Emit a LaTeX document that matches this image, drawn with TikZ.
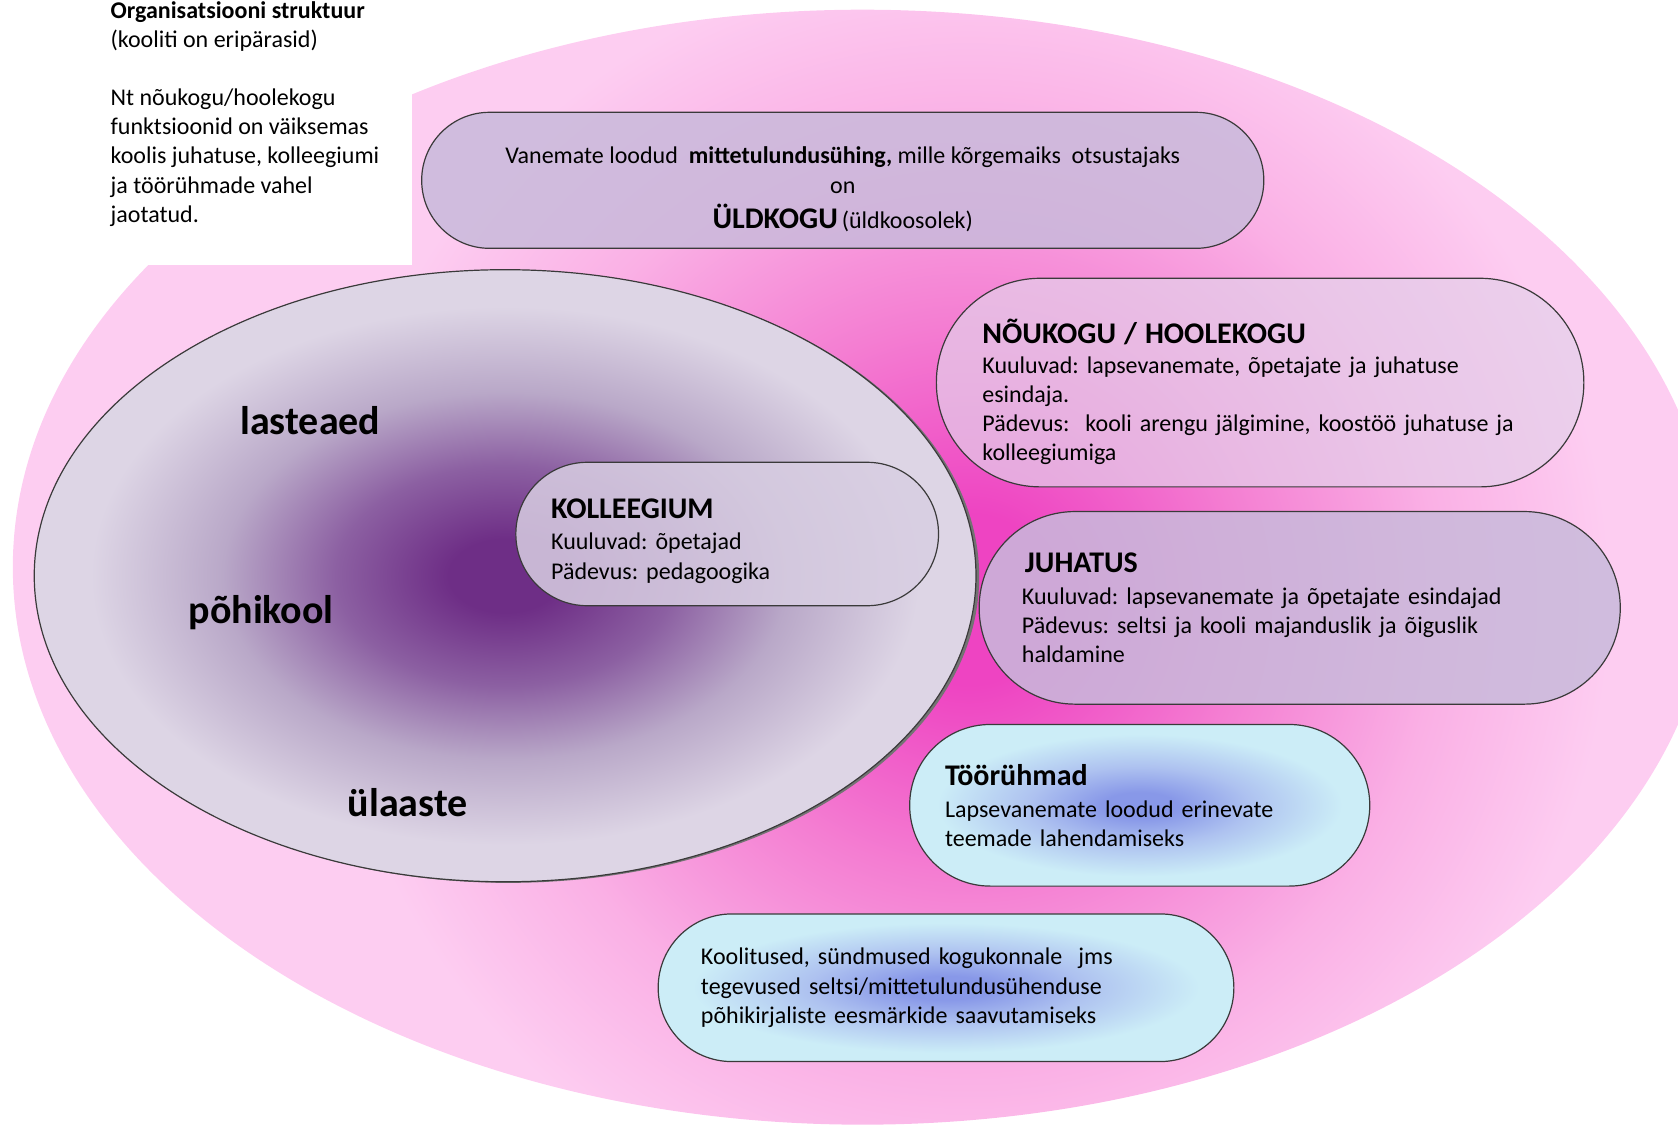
\documentclass[tikz,border=0pt]{standalone}
\usepackage{fontspec}
\setmainfont{Carlito}
\frenchspacing

\definecolor{pinkedge}{HTML}{FDCDF1}
\definecolor{pinklight}{HTML}{FAB0E5}
\definecolor{pinkmid}{HTML}{F47ED2}
\definecolor{pinkcore}{HTML}{EE44C2}
\definecolor{schoolcore}{HTML}{6E2E86}
\definecolor{schooldark}{HTML}{8C60A2}
\definecolor{schoolmid}{HTML}{B9A8C8}
\definecolor{schooledge}{HTML}{DDD5E5}
\definecolor{lavfill}{HTML}{C9BADB}
\definecolor{lavlight}{HTML}{E4D0EA}
\definecolor{kolfill}{HTML}{D8CEE2}
\definecolor{cyanedge}{HTML}{CCEDF7}
\definecolor{cyanmid}{HTML}{AEC2F0}
\definecolor{bluecore}{HTML}{8898E8}
\definecolor{boxline}{HTML}{3A3A3A}

\pgfdeclareradialshading{pinkglow}{\pgfpointorigin}{color(0bp)=(pinkcore); color(2bp)=(pinkcore); color(6.5bp)=(pinkmid); color(11bp)=(pinklight); color(15bp)=(pinkedge); color(50bp)=(pinkedge)}
\pgfdeclareradialshading{schoolglow}{\pgfpointorigin}{color(0bp)=(schoolcore); color(3bp)=(schoolcore); color(9bp)=(schooldark); color(15bp)=(schoolmid); color(22bp)=(schooledge); color(50bp)=(schooledge)}
\pgfdeclareradialshading{bluecloud}{\pgfpointorigin}{color(0bp)=(bluecore); color(4bp)=(bluecore); color(12bp)=(cyanmid); color(22bp)=(cyanedge); color(50bp)=(cyanedge)}

\newcommand{\txtfont}{\fontsize{12}{14.6}\selectfont}
\newcommand{\hdfont}{\fontsize{15}{18}\selectfont\bfseries}

\begin{document}
\begin{tikzpicture}[x=0.535pt, y=-0.535pt,
    pill/.style={draw=boxline, line width=0.6pt, align=left, inner sep=0pt, font=\txtfont, text=black},
    lavpill/.style={pill, fill=lavfill, fill opacity=0.85, text opacity=1},
    bluepill/.style={pill, shade, shading=bluecloud},
    schoollabel/.style={font=\fontsize{20}{24}\selectfont\bfseries},
    note/.style={align=left, inner sep=0pt, font=\txtfont}]
  \useasboundingbox (0,0) rectangle (1568,1053);
  \clip (0,0) rectangle (1568,1053);

  % pink oval behind everything
  \begin{scope}
    \clip (806,530) ellipse [x radius=424.8pt, y radius=278.7pt];
    \shade[shading=pinkglow] (-95,-440) rectangle (1905,1560);
  \end{scope}
  \fill[white] (0,0) rectangle (385,248); % free corner for the note

  \node[note, anchor=north west] (note) at (103,1) {\textbf{Organisatsiooni struktuur}\\
    (kooliti on eripärasid)\\[14.4pt]
    Nt nõukogu/hoolekogu\\
    funktsioonid on väiksemas\\
    koolis juhatuse, kolleegiumi\\
    ja töörühmade vahel\\
    jaotatud.};

  % school oval
  \fill[black!55] (475,539) ellipse [x radius=235.4pt, y radius=153pt]; % shadow
  \shadedraw[shading=schoolglow, draw=boxline, line width=0.6pt] (472,538) ellipse [x radius=235.4pt, y radius=153pt];
  \node[schoollabel] (lasteaed) at (290,393) {lasteaed};
  \node[schoollabel] (pohikool) at (244,572) {põhikool};
  \node[schoollabel] (ulaaste) at (381,750) {ülaaste};

  % bodies of the society
  \node[lavpill, align=center, minimum width=421pt, minimum height=68pt, rounded corners=33.9pt] (uldkogu) at (787.5,168.5)
    {\rule{0pt}{17.5pt}Vanemate loodud \ \textbf{mittetulundusühing,} mille kõrgemaiks \ otsustajaks\\
     on\\[3pt]
     {\hdfont ÜLDKOGU}\,(üldkoosolek)};
  \node[lavpill, fill=lavlight, fill opacity=0.7, minimum width=323.7pt, minimum height=104.3pt, rounded corners=52pt, text width=277.7pt] (noukogu) at (1177.5,357.5)
    {\rule{0pt}{21.5pt}{\hdfont NÕUKOGU / HOOLEKOGU}\\[0.5pt]
     Kuuluvad: lapsevanemate, õpetajate ja juhatuse\\
     esindaja.\\
     Pädevus: \ kooli arengu jälgimine, koostöö juhatuse ja\\
     kolleegiumiga};
  \node[lavpill, fill=kolfill, minimum width=211.3pt, minimum height=71.7pt, rounded corners=35.7pt, text width=176pt] (kolleegium) at (679.5,499)
    {\rule{0pt}{17pt}{\hdfont KOLLEEGIUM}\\[1pt]
     Kuuluvad: õpetajad\\
     Pädevus: pedagoogika};
  \node[lavpill, minimum width=320.5pt, minimum height=96.3pt, rounded corners=48pt, text width=277.7pt] (juhatus) at (1214.5,568)
    {{\hdfont\hspace{1.5pt}JUHATUS}\\[1.5pt]
     Kuuluvad: lapsevanemate ja õpetajate esindajad\\
     Pädevus: seltsi ja kooli majanduslik ja õiguslik\\
     haldamine};
  \node[bluepill, minimum width=230pt, minimum height=80.8pt, rounded corners=40.3pt, text width=194.7pt] (tooruhmad) at (1065,752.5)
    {{\hdfont Töörühmad}\\[1.5pt]
     Lapsevanemate loodud erinevate\\
     teemade lahendamiseks};
  \node[bluepill, minimum width=287.8pt, minimum height=73.8pt, rounded corners=36.8pt, text width=245pt] (tegevused) at (884,923)
    {Koolitused, sündmused kogukonnale \ jms\\
     tegevused seltsi/mittetulundusühenduse\\
     põhikirjaliste eesmärkide saavutamiseks};
\end{tikzpicture}
\end{document}
